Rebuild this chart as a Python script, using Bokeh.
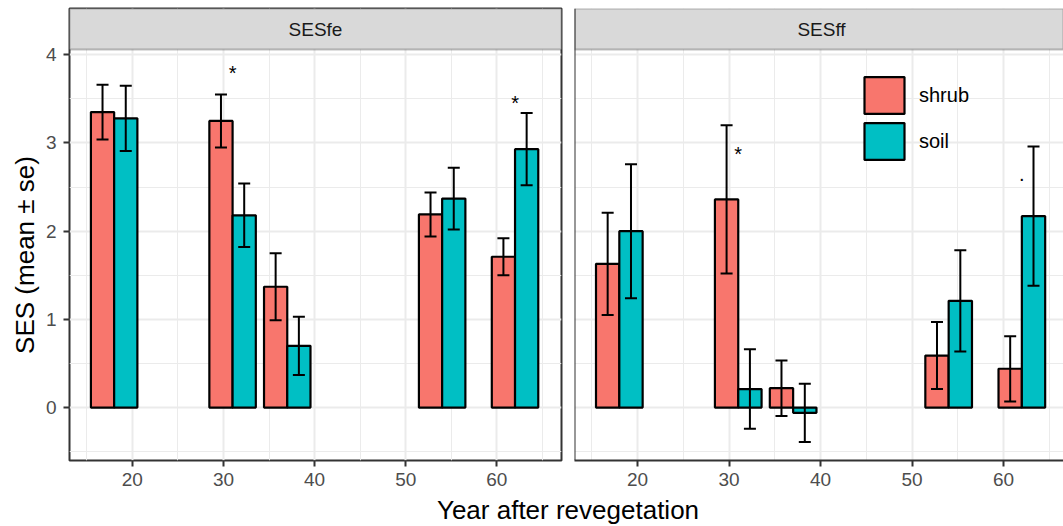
import math
from bokeh.plotting import figure
from bokeh.layouts import column, row
from bokeh.models import (Range1d, FixedTicker, Whisker, TeeHead, ColumnDataSource,
                          Legend, LegendItem, Span, BoxAnnotation, Label)
from bokeh.core.properties import value
from bokeh.embed import file_html
from bokeh.resources import INLINE

# ---------------- data ----------------
years = [18, 31, 37, 54, 62]
panel_names = ["SESfe", "SESff"]
group_names = ["shrub", "soil"]

fe_shrub_mean = [3.35, 3.25, 1.37, 2.19, 1.71]
fe_shrub_se = [0.31, 0.30, 0.38, 0.25, 0.21]
fe_soil_mean = [3.28, 2.18, 0.70, 2.37, 2.93]
fe_soil_se = [0.37, 0.36, 0.33, 0.35, 0.41]

ff_shrub_mean = [1.63, 2.36, 0.22, 0.59, 0.44]
ff_shrub_se = [0.58, 0.84, 0.315, 0.38, 0.37]
ff_soil_mean = [2.00, 0.21, -0.06, 1.21, 2.17]
ff_soil_se = [0.76, 0.45, 0.33, 0.575, 0.79]

fe_sig_year = [31, 62]
fe_sig_y = [3.79, 3.455]
fe_sig_text = ["*", "*"]
ff_sig_year = [31, 62]
ff_sig_y = [2.875, 2.645]
ff_sig_text = ["*", "."]

x_ticks = [20, 30, 40, 50, 60]
x_minor = [15, 25, 35, 45, 55, 65]
y_ticks = [0, 1, 2, 3, 4]
y_minor = [-0.5, 0.5, 1.5, 2.5, 3.5]

x_title = "Year after revegetation"
y_title = "SES (mean ± se)"

# ---------------- style ----------------
FONT_NAME = "Liberation Sans"
FONT = value(FONT_NAME)
SHRUB = "#F8766D"
SOIL = "#00BFC4"
BORDER = "#333333"
GRID = "#EBEBEB"
BAR_W = 2.55
X_START = 13.1
FULL_W = 494                      # panel width in px
PX_PER_X = FULL_W / 54.0
Y0, Y1 = -0.60, 4.06
PANEL_H = 411
STRIP_H = 41
PX_PER_Y = PANEL_H / (Y1 - Y0)
Y_TOP = Y1 + STRIP_H / PX_PER_Y
X_MID = X_START + (FULL_W / 2) / PX_PER_X

YLAB_W = 42
TOP_B = 8
BOT_B = 34
FIG_H = TOP_B + STRIP_H + PANEL_H + BOT_B
P1_W = 567 - YLAB_W
P2_W = 1063 - 567
T_H = 526 - FIG_H


def style_grid(p):
    p.xgrid.ticker = FixedTicker(ticks=x_ticks, minor_ticks=x_minor)
    p.ygrid.ticker = FixedTicker(ticks=y_ticks, minor_ticks=y_minor)
    for g in (p.xgrid, p.ygrid):
        g.grid_line_color = GRID
        g.grid_line_width = 2
        g.minor_grid_line_color = GRID
        g.minor_grid_line_width = 1


def style_axis(ax, ticks, minor, standoff):
    ax.ticker = FixedTicker(ticks=ticks, minor_ticks=minor)
    ax.major_label_text_font = FONT_NAME
    ax.major_label_text_font_size = "19px"
    ax.major_label_text_color = "#4D4D4D"
    ax.major_tick_out = 6
    ax.major_tick_in = 0
    ax.major_tick_line_color = BORDER
    ax.major_tick_line_width = 2
    ax.minor_tick_line_color = None
    ax.major_label_standoff = standoff


def draw_bars(p, sm, ss, om, os_):
    xs_shrub = [y - BAR_W / 2 for y in years]
    xs_soil = [y + BAR_W / 2 for y in years]
    src_shrub = ColumnDataSource(dict(x=xs_shrub, top=sm,
                                      upper=[m + s for m, s in zip(sm, ss)],
                                      lower=[m - s for m, s in zip(sm, ss)]))
    src_soil = ColumnDataSource(dict(x=xs_soil, top=om,
                                     upper=[m + s for m, s in zip(om, os_)],
                                     lower=[m - s for m, s in zip(om, os_)]))
    r1 = p.vbar(x="x", top="top", bottom=0, width=BAR_W, source=src_shrub,
                fill_color=SHRUB, line_color="black", line_width=2.2)
    r2 = p.vbar(x="x", top="top", bottom=0, width=BAR_W, source=src_soil,
                fill_color=SOIL, line_color="black", line_width=2.2)
    for src in (src_shrub, src_soil):
        w = Whisker(source=src, base="x", upper="upper", lower="lower",
                    dimension="height", line_color="black", line_width=2,
                    level="annotation",
                    upper_head=TeeHead(size=12, line_color="black", line_width=2),
                    lower_head=TeeHead(size=12, line_color="black", line_width=2))
        p.add_layout(w)
    return r1, r2


def draw_sig(p, xs, ys, texts):
    p.text(x=xs, y=ys, text=texts, text_font=FONT, text_font_size="20px",
           text_align="center", text_baseline="middle", text_color="black")


def draw_strip(p, name):
    p.add_layout(BoxAnnotation(bottom=Y1, fill_color="#D9D9D9", fill_alpha=1,
                               line_color=BORDER, line_width=2))
    p.add_layout(Label(x=X_MID, y=(Y1 + Y_TOP) / 2, text=name, text_font=FONT_NAME,
                       text_font_size="19px", text_align="center",
                       text_baseline="middle", text_color="#1A1A1A"))


# ---------------- y title ----------------
yl = figure(width=YLAB_W, height=FIG_H, x_range=Range1d(0, 1), y_range=Range1d(Y0, Y_TOP),
            output_backend="svg", toolbar_location=None,
            x_axis_location=None, y_axis_location=None,
            min_border_left=0, min_border_right=0,
            min_border_top=TOP_B, min_border_bottom=BOT_B)
yl.outline_line_color = None
yl.xgrid.visible = False
yl.ygrid.visible = False
yl.text(x=[24 / YLAB_W], y=[(Y0 + Y1) / 2], text=[y_title], angle=math.pi / 2,
        text_font=FONT, text_font_size="26px", text_align="center",
        text_baseline="middle", text_color="black")

# ---------------- panel 1 ----------------
p1 = figure(width=P1_W, height=FIG_H,
            x_range=Range1d(X_START, X_START + FULL_W / PX_PER_X),
            y_range=Range1d(Y0, Y_TOP), output_backend="svg", toolbar_location=None,
            min_border_left=67 - YLAB_W, min_border_right=6,
            min_border_top=TOP_B, min_border_bottom=BOT_B)
p1.outline_line_color = BORDER
p1.outline_line_width = 2
style_grid(p1)
style_axis(p1.xaxis[0], x_ticks, x_minor, 6)
style_axis(p1.yaxis[0], y_ticks, y_minor, 7)
p1.xaxis.axis_line_color = None
p1.yaxis.axis_line_color = None
draw_bars(p1, fe_shrub_mean, fe_shrub_se, fe_soil_mean, fe_soil_se)
draw_sig(p1, fe_sig_year, fe_sig_y, fe_sig_text)
draw_strip(p1, panel_names[0])

# ---------------- panel 2 ----------------
p2 = figure(width=P2_W, height=FIG_H,
            x_range=Range1d(X_START, X_START + (P2_W - 7) / PX_PER_X),
            y_range=Range1d(Y0, Y_TOP), output_backend="svg", toolbar_location=None,
            y_axis_location=None,
            min_border_left=7, min_border_right=0,
            min_border_top=TOP_B, min_border_bottom=BOT_B)
p2.outline_line_color = None
style_grid(p2)
style_axis(p2.xaxis[0], x_ticks, x_minor, 6)
p2.xaxis.axis_line_color = BORDER
p2.xaxis.axis_line_width = 2
r_shrub, r_soil = draw_bars(p2, ff_shrub_mean, ff_shrub_se, ff_soil_mean, ff_soil_se)
draw_sig(p2, ff_sig_year, ff_sig_y, ff_sig_text)
draw_strip(p2, panel_names[1])
p2.add_layout(Span(location=X_START, dimension="height", line_color=BORDER, line_width=2))

legend = Legend(items=[LegendItem(label=group_names[0], renderers=[r_shrub]),
                       LegendItem(label=group_names[1], renderers=[r_soil])],
                location=(285, 296), glyph_width=50, glyph_height=46, spacing=0,
                padding=0, margin=0, border_line_color=None, background_fill_alpha=0,
                label_text_font=FONT_NAME, label_text_font_size="20px",
                label_text_color="black", label_standoff=10)
p2.add_layout(legend)

# ---------------- x title ----------------
t = figure(width=1063, height=T_H, x_range=Range1d(0, 996 / 1001.0), y_range=Range1d(0, 1),
           output_backend="svg", toolbar_location=None,
           x_axis_location=None, y_axis_location=None,
           min_border_left=67, min_border_right=0, min_border_top=0, min_border_bottom=0)
t.outline_line_color = None
t.xgrid.visible = False
t.ygrid.visible = False
t.text(x=[0.5], y=[1 - 15.7 / T_H], text=[x_title], text_font=FONT,
       text_font_size="26px", text_align="center", text_baseline="middle",
       text_color="black")

layout = column(row(yl, p1, p2), t)
open("out.html", "w").write(file_html(layout, INLINE))
